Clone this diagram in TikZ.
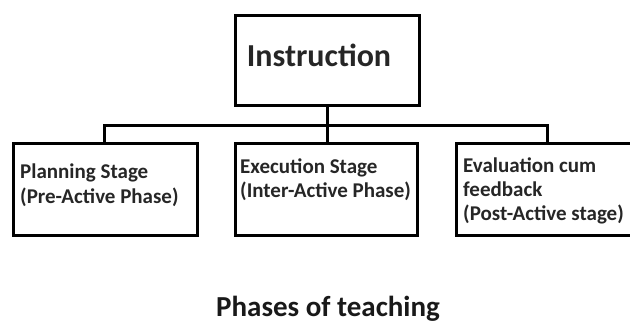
\documentclass[tikz,border=0pt]{standalone}
\usepackage{fontspec}
\setmainfont{Carlito}
\begin{document}
\begin{tikzpicture}[x=1pt,y=-1pt,
  stagebox/.style={draw=black,line width=3pt,inner sep=0pt,minimum height=92pt},
  conn/.style={draw=black,line width=3pt},
  boxtext/.style={anchor=base west,inner sep=0pt,font=\fontsize{21}{25}\selectfont\bfseries,text=black!85}]
\useasboundingbox (0,0) rectangle (630,324);
% top box
\node[draw=black,line width=3pt,inner sep=0pt,minimum width=184pt,minimum height=90pt] (top) at (327,60) {};
\node[anchor=base,inner sep=0pt,font=\fontsize{32}{36}\selectfont\bfseries,text=black!85] (toptext) at (319,66) {Instruction};
% stage boxes
\node[stagebox,minimum width=184pt] (s1) at (105,189) {};
\node[stagebox,minimum width=182pt] (s2) at (326,189) {};
\node[stagebox,minimum width=180pt] (s3) at (546,189) {};
% connectors
\coordinate (j) at (327,125);
\coordinate (l) at (104,125);
\coordinate (r) at (547,125);
\draw[conn] (top.south) -- (j);
\draw[conn,line cap=rect] (l) -- (r);
\draw[conn] (l) -- (l |- s1.north);
\draw[conn] (j) -- (j |- s2.north);
\draw[conn] (r) -- (r |- s3.north);
% texts
\node[boxtext] (t1a) at (20,178) {Planning Stage};
\node[boxtext] (t1b) at (20,203) {(Pre-Active Phase)};
\node[boxtext] (t2a) at (240,173) {Execution Stage};
\node[boxtext] (t2b) at (240,197) {(Inter-Active Phase)};
\node[boxtext] (t3a) at (463,172) {Evaluation cum};
\node[boxtext] (t3b) at (463,196) {feedback};
\node[boxtext] (t3c) at (463,220) {(Post-Active stage)};
\node[anchor=base west,inner sep=0pt,font=\fontsize{29}{34}\selectfont\bfseries,text=black!90] (title) at (216,316) {Phases of teaching};
\end{tikzpicture}
\end{document}
